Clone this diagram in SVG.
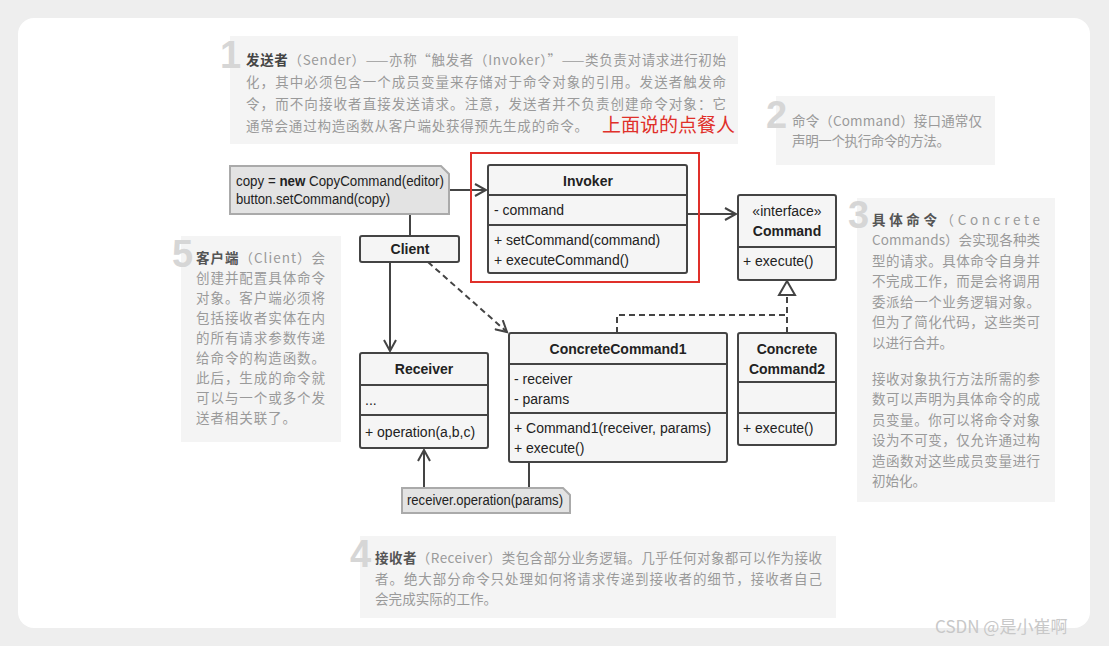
<svg xmlns="http://www.w3.org/2000/svg" width="1109" height="646" viewBox="0 0 1109 646">
<style>
.n{font-family:"Noto Sans CJK SC","Noto Sans",sans-serif;font-size:13.5px;fill:#9a9a9a}
.b{font-weight:bold}
.num{font-family:"Liberation Sans",sans-serif;font-weight:bold;font-size:38px;fill:#d6d6d6}
.nb{fill:#f4f4f4}
.box{fill:#f5f5f5;stroke:#444;stroke-width:2}
.t{font-family:"Liberation Sans",sans-serif;font-size:14px;fill:#222}
.h{font-weight:bold;text-anchor:middle}
.ln{stroke:#444;stroke-width:2;fill:none}
.dl{stroke:#444;stroke-width:2;fill:none;stroke-dasharray:6,4}
.note{fill:#e3e3e3;stroke:#aaa;stroke-width:2}
</style>
<defs>
<marker id="a" markerWidth="14" markerHeight="14" refX="12" refY="7" orient="auto" markerUnits="userSpaceOnUse"><path d="M1,1 L12,7 L1,13" fill="none" stroke="#444" stroke-width="2"/></marker>
</defs>
<rect width="1109" height="646" fill="#eeeeee"/>
<rect x="18" y="18" width="1072" height="610" rx="16" fill="#fff"/>

<g id="note1">
<rect class="nb" x="230" y="36" width="508" height="108"/>
<text class="num" x="220" y="68">1</text>
<text class="n" x="246" y="65" textLength="480" lengthAdjust="spacing"><tspan class="b" fill="#444">发送者</tspan>（Sender）——亦称“触发者（Invoker）”——类负责对请求进行初始</text>
<text class="n" x="246" y="87" textLength="480" lengthAdjust="spacing">化，其中必须包含一个成员变量来存储对于命令对象的引用。发送者触发命</text>
<text class="n" x="246" y="109" textLength="480" lengthAdjust="spacing">令，而不向接收者直接发送请求。注意，发送者并不负责创建命令对象：它</text>
<text class="n" x="246" y="131" textLength="342" lengthAdjust="spacing">通常会通过构造函数从客户端处获得预先生成的命令。</text>
<text x="602" y="132" font-family="'Noto Sans CJK SC',sans-serif" font-size="19" fill="#e0302a">上面说的点餐人</text>
</g>
<g id="note2">
<rect class="nb" x="776" y="96" width="219" height="69"/>
<text class="num" x="766" y="128">2</text>
<text class="n" x="792" y="126" textLength="190" lengthAdjust="spacing">命令（Command）接口通常仅</text>
<text class="n" x="792" y="146" textLength="158" lengthAdjust="spacing">声明一个执行命令的方法。</text>
</g>
<g id="note3">
<rect class="nb" x="857" y="198" width="198" height="304"/>
<text class="num" x="848" y="228">3</text>
<text class="n" x="872" y="225" textLength="168" lengthAdjust="spacing"><tspan class="b" fill="#555">具体命令</tspan>（Concrete</text>
<text class="n" x="872" y="245" textLength="168" lengthAdjust="spacing">Commands）会实现各种类</text>
<text class="n" x="872" y="266" textLength="168" lengthAdjust="spacing">型的请求。具体命令自身并</text>
<text class="n" x="872" y="286" textLength="168" lengthAdjust="spacing">不完成工作，而是会将调用</text>
<text class="n" x="872" y="307" textLength="168" lengthAdjust="spacing">委派给一个业务逻辑对象。</text>
<text class="n" x="872" y="327" textLength="168" lengthAdjust="spacing">但为了简化代码，这些类可</text>
<text class="n" x="872" y="348">以进行合并。</text>
<text class="n" x="872" y="384" textLength="168" lengthAdjust="spacing">接收对象执行方法所需的参</text>
<text class="n" x="872" y="404" textLength="168" lengthAdjust="spacing">数可以声明为具体命令的成</text>
<text class="n" x="872" y="425" textLength="168" lengthAdjust="spacing">员变量。你可以将命令对象</text>
<text class="n" x="872" y="445" textLength="168" lengthAdjust="spacing">设为不可变，仅允许通过构</text>
<text class="n" x="872" y="466" textLength="168" lengthAdjust="spacing">造函数对这些成员变量进行</text>
<text class="n" x="872" y="486">初始化。</text>
</g>
<g id="note5">
<rect class="nb" x="181" y="236" width="160" height="206"/>
<text class="num" x="172" y="267">5</text>
<text class="n" x="196" y="263" textLength="129" lengthAdjust="spacing"><tspan class="b" fill="#555">客户端</tspan>（Client）会</text>
<text class="n" x="196" y="283" textLength="129" lengthAdjust="spacing">创建并配置具体命令</text>
<text class="n" x="196" y="303" textLength="129" lengthAdjust="spacing">对象。客户端必须将</text>
<text class="n" x="196" y="323" textLength="129" lengthAdjust="spacing">包括接收者实体在内</text>
<text class="n" x="196" y="343" textLength="129" lengthAdjust="spacing">的所有请求参数传递</text>
<text class="n" x="196" y="363" textLength="129" lengthAdjust="spacing">给命令的构造函数。</text>
<text class="n" x="196" y="383" textLength="129" lengthAdjust="spacing">此后，生成的命令就</text>
<text class="n" x="196" y="403" textLength="129" lengthAdjust="spacing">可以与一个或多个发</text>
<text class="n" x="196" y="423" textLength="100" lengthAdjust="spacing">送者相关联了。</text>
</g>
<g id="note4">
<rect class="nb" x="360" y="536" width="476" height="82"/>
<text class="num" x="350" y="567">4</text>
<text class="n" x="375" y="563" textLength="447" lengthAdjust="spacing"><tspan class="b" fill="#555">接收者</tspan>（Receiver）类包含部分业务逻辑。几乎任何对象都可以作为接收</text>
<text class="n" x="375" y="584" textLength="447" lengthAdjust="spacing">者。绝大部分命令只处理如何将请求传递到接收者的细节，接收者自己</text>
<text class="n" x="375" y="604" textLength="122" lengthAdjust="spacing">会完成实际的工作。</text>
</g>

<g id="connectors">
<line class="ln" x1="449" y1="190" x2="486" y2="190" marker-end="url(#a)"/>
<line class="ln" x1="410" y1="214" x2="410" y2="236"/>
<line class="ln" x1="687" y1="214" x2="736" y2="214" marker-end="url(#a)"/>
<line class="ln" x1="390" y1="262" x2="390" y2="351" marker-end="url(#a)"/>
<line class="dl" x1="428" y1="262" x2="507" y2="332" marker-end="url(#a)"/>
<polyline class="dl" points="617,333 617,315 787,315"/>
<line class="dl" x1="787" y1="333" x2="787" y2="296"/>
<path d="M787,281 L795,295 L779,295 Z" fill="#fff" stroke="#444" stroke-width="2"/>
<line class="ln" x1="424" y1="488" x2="424" y2="450" marker-end="url(#a)"/>
<line class="ln" x1="529" y1="462" x2="529" y2="488"/>
</g>

<g id="copynote">
<path class="note" d="M230,166 H441 L449,174 V214 H230 Z"/>
<text class="t" x="236" y="186" font-size="13.5" textLength="208" lengthAdjust="spacingAndGlyphs">copy = <tspan font-weight="bold">new</tspan> CopyCommand(editor)</text>
<text class="t" x="236" y="204" font-size="13.5" textLength="154" lengthAdjust="spacingAndGlyphs">button.setCommand(copy)</text>
</g>
<g id="client">
<rect class="box" x="360" y="236" width="99" height="26" rx="2"/>
<text class="t h" x="410" y="254">Client</text>
</g>
<g id="invoker">
<rect class="box" x="488" y="165" width="199" height="108" rx="2"/>
<line class="ln" x1="488" y1="195" x2="687" y2="195"/>
<line class="ln" x1="488" y1="225" x2="687" y2="225"/>
<text class="t h" x="588" y="186">Invoker</text>
<text class="t" x="494" y="215">- command</text>
<text class="t" x="494" y="245">+ setCommand(command)</text>
<text class="t" x="494" y="265">+ executeCommand()</text>
</g>
<rect x="471" y="153" width="228" height="129" fill="none" stroke="#e0302a" stroke-width="2"/>
<g id="command">
<rect class="box" x="738" y="195" width="98" height="85" rx="2"/>
<line class="ln" x1="738" y1="247" x2="836" y2="247"/>
<text class="t" x="787" y="216" text-anchor="middle">«interface»</text>
<text class="t h" x="787" y="236">Command</text>
<text class="t" x="743" y="266">+ execute()</text>
</g>
<g id="receiver">
<rect class="box" x="360" y="353" width="128" height="95" rx="2"/>
<line class="ln" x1="360" y1="385" x2="488" y2="385"/>
<line class="ln" x1="360" y1="415" x2="488" y2="415"/>
<text class="t h" x="424" y="374">Receiver</text>
<text class="t" x="365" y="405">...</text>
<text class="t" x="365" y="437">+ operation(a,b,c)</text>
</g>
<g id="cc1">
<rect class="box" x="509" y="333" width="218" height="129" rx="2"/>
<line class="ln" x1="509" y1="364" x2="727" y2="364"/>
<line class="ln" x1="509" y1="413" x2="727" y2="413"/>
<text class="t h" x="618" y="354">ConcreteCommand1</text>
<text class="t" x="514" y="384">- receiver</text>
<text class="t" x="514" y="404">- params</text>
<text class="t" x="514" y="433">+ Command1(receiver, params)</text>
<text class="t" x="514" y="453">+ execute()</text>
</g>
<g id="cc2">
<rect class="box" x="738" y="333" width="98" height="112" rx="2"/>
<line class="ln" x1="738" y1="382" x2="836" y2="382"/>
<line class="ln" x1="738" y1="413" x2="836" y2="413"/>
<text class="t h" x="787" y="354">Concrete</text>
<text class="t h" x="787" y="374">Command2</text>
<text class="t" x="743" y="433">+ execute()</text>
</g>
<g id="recnote">
<path class="note" d="M402,488 H563 L570,495 V513 H402 Z"/>
<text class="t" x="407" y="505" font-size="13.5" textLength="156" lengthAdjust="spacingAndGlyphs">receiver.operation(params)</text>
</g>
<text x="935" y="633" font-family="'Noto Sans CJK SC',sans-serif" font-size="17" fill="#c8c8c8">CSDN @是小崔啊</text>
</svg>
